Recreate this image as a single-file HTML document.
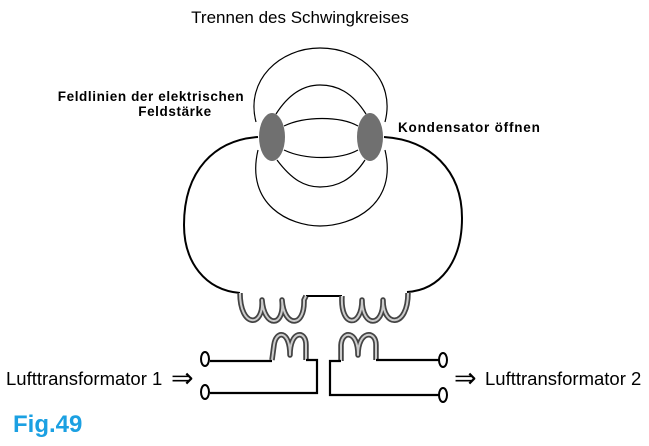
<!DOCTYPE html>
<html><head><style>
body{margin:0;background:#fff;width:649px;height:441px;overflow:hidden;font-family:"Liberation Sans",sans-serif}
</style></head><body>
<svg width="649" height="441" viewBox="0 0 649 441" xmlns="http://www.w3.org/2000/svg" font-family="Liberation Sans, sans-serif">
<text x="300" y="23" font-size="17" text-anchor="middle">Trennen des Schwingkreises</text>
<text x="151" y="101" font-size="13.5" font-weight="bold" letter-spacing="0.6" text-anchor="middle">Feldlinien der elektrischen</text>
<text x="175" y="116" font-size="13.5" font-weight="bold" letter-spacing="0.6" text-anchor="middle">Feldstärke</text>
<text x="398" y="132" font-size="13.5" font-weight="bold" letter-spacing="0.8">Kondensator öffnen</text>
<g fill="none" stroke="#000" stroke-width="1.2">
<path d="M256,122 C245,80 280,48 320,48 C362,48 396,80 385,122"/>
<path d="M276,114 C290,92 305,85 320,85 C337,85 352,92 366,114"/>
<path d="M284,126 C305,116 340,116 358,126"/>
<path d="M284,150 C305,160 340,160 358,150"/>
<path d="M277,160 C292,180 305,187 320,187 C337,187 352,180 365,160"/>
<path d="M258,150 C245,205 290,226 320,226 C352,226 398,205 385,150"/>
</g>
<g fill="none" stroke="#000" stroke-width="2">
<path d="M258,137 C215,140 184,170 184,225 C184,262 205,290 240,293"/>
<path d="M384,137 C430,140 462,170 462,218 C462,262 440,290 407,292"/>
<path d="M306,296 L342,296"/>
</g>
<ellipse cx="272" cy="137" rx="13" ry="24" fill="#707070"/>
<ellipse cx="370" cy="137" rx="13" ry="24" fill="#707070"/>
<g id="coils" fill="none" stroke="#444" stroke-width="5.5" stroke-linejoin="round">
<path d="M240,293 C240,328 264,328 262,300 C264,328 285,328 282,300 C284,328 305,328 304,300 L306,296"/>
<path d="M342,296 C340,328 362,328 362,300 C362,328 384,328 383,300 C383,328 408,328 408,293"/>
<path d="M272,360 L274,345 C276,330 290,330 290,355 C290,330 306,330 306,345 L306,360"/>
<path d="M341,361 L341,345 C342,330 358,330 358,355 C358,330 376,330 376,345 L376,360"/>
</g>
<g fill="none" stroke="#ccc" stroke-width="2" stroke-linejoin="round">
<path d="M240,293 C240,328 264,328 262,300 C264,328 285,328 282,300 C284,328 305,328 304,300 L306,296"/>
<path d="M342,296 C340,328 362,328 362,300 C362,328 384,328 383,300 C383,328 408,328 408,293"/>
<path d="M272,360 L274,345 C276,330 290,330 290,355 C290,330 306,330 306,345 L306,360"/>
<path d="M341,361 L341,345 C342,330 358,330 358,355 C358,330 376,330 376,345 L376,360"/>
</g>
<g fill="none" stroke="#000" stroke-width="2.2">
<path d="M210,361 L272,361"/>
<path d="M306,360 L317,360 L317,393 L210,393"/>
<path d="M341,361 L330,361 L330,395 L440,395"/>
<path d="M376,360 L440,360"/>
</g>
<g fill="#fff" stroke="#000" stroke-width="2">
<ellipse cx="205" cy="359" rx="4" ry="7"/>
<ellipse cx="205" cy="392" rx="4" ry="7"/>
<ellipse cx="443" cy="360" rx="4" ry="7"/>
<ellipse cx="443" cy="395" rx="4" ry="7"/>
</g>
<text x="6" y="385" font-size="18.5">Lufttransformator 1</text>
<text x="171" y="387" font-size="27">⇒</text>
<text x="454" y="387" font-size="27">⇒</text>
<text x="485" y="385" font-size="18.5">Lufttransformator 2</text>
<text x="13" y="432" font-size="24" font-weight="bold" fill="#1ba0e2">Fig.49</text>
</svg>
</body></html>
